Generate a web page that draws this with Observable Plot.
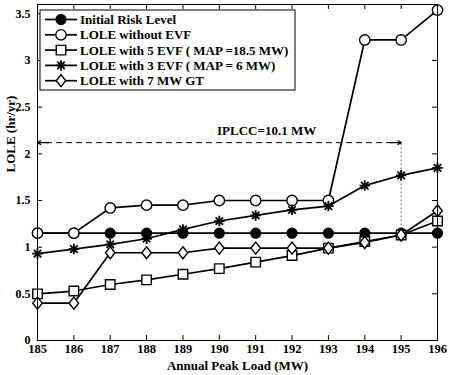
<!DOCTYPE html>
<html>
<head>
<meta charset="utf-8">
<script src="https://cdn.jsdelivr.net/npm/d3@7"></script>
<script src="https://cdn.jsdelivr.net/npm/@observablehq/plot@0.6"></script>
<style>
  html, body { margin: 0; padding: 0; background: #fff; }
  #chart { width: 450px; height: 375px; }
  #chart svg text { font-family: "Liberation Serif", "Times New Roman", serif; font-weight: bold; }
</style>
</head>
<body>
<div id="chart"></div>
<script>
// Annual peak load (MW)
const loads = [185, 186, 187, 188, 189, 190, 191, 192, 193, 194, 195, 196];

// LOLE (hr/yr) per scenario
const initialRisk = [1.15, 1.15, 1.15, 1.15, 1.15, 1.15, 1.15, 1.15, 1.15, 1.15, 1.15, 1.15];
const withoutEVF  = [1.15, 1.15, 1.42, 1.45, 1.45, 1.50, 1.50, 1.50, 1.50, 3.22, 3.22, 3.54];
const with5EVF    = [0.50, 0.53, 0.60, 0.65, 0.71, 0.77, 0.84, 0.91, 0.99, 1.06, 1.13, 1.28];
const with3EVF    = [0.93, 0.98, 1.03, 1.09, 1.19, 1.28, 1.34, 1.40, 1.44, 1.66, 1.77, 1.85];
const with7GT     = [0.40, 0.40, 0.94, 0.94, 0.94, 0.99, 0.99, 0.99, 0.99, 1.05, 1.13, 1.39];

const seriesNames = [
  "Initial Risk Level",
  "LOLE without EVF",
  "LOLE with 5 EVF ( MAP =18.5 MW)",
  "LOLE with 3 EVF ( MAP = 6 MW)",
  "LOLE with 7 MW GT"
];

// Axis ticks
const xTicks = [185, 186, 187, 188, 189, 190, 191, 192, 193, 194, 195, 196];
const yTicks = [0, 0.5, 1, 1.5, 2, 2.5, 3, 3.5];
const xLabel = "Annual Peak Load (MW)";
const yLabel = "LOLE (hr/yr)";

// IPLCC annotation: dashed double arrow from the first load to the crossing load
const iplccFrom = 185;
const iplccTo = 195;
const iplccLevel = 2.12;
const iplccCross = 1.15;
const iplccText = "IPLCC=10.1 MW";
const iplccTextX = 191.3;
const iplccTextY = 2.2;

// Marker shapes (size arrives as pi*r^2 from Plot)
const rOf = size => Math.sqrt(size / Math.PI);
const symSquare = {
  draw(ctx, size) {
    const h = rOf(size) * 0.95;
    ctx.moveTo(-h, -h); ctx.lineTo(h, -h); ctx.lineTo(h, h); ctx.lineTo(-h, h); ctx.closePath();
  }
};
const symDiamond = {
  draw(ctx, size) {
    const r = rOf(size), w = r * 0.95, h = r * 1.2;
    ctx.moveTo(0, -h); ctx.lineTo(w, 0); ctx.lineTo(0, h); ctx.lineTo(-w, 0); ctx.closePath();
  }
};
const symStar = {
  draw(ctx, size) {
    const r = rOf(size) * 1.05, d = r * Math.SQRT1_2;
    ctx.moveTo(-r, 0); ctx.lineTo(r, 0);
    ctx.moveTo(0, -r); ctx.lineTo(0, r);
    ctx.moveTo(-d, -d); ctx.lineTo(d, d);
    ctx.moveTo(-d, d); ctx.lineTo(d, -d);
  }
};

const styles = [
  {symbol: "circle", fill: "black", stroke: "black", r: 5, sw: 1.2},
  {symbol: "circle", fill: "white", stroke: "black", r: 5.2, sw: 1.4},
  {symbol: symSquare, fill: "white", stroke: "black", r: 5, sw: 1.4},
  {symbol: symStar, fill: "none", stroke: "black", r: 5, sw: 1.8},
  {symbol: symDiamond, fill: "white", stroke: "black", r: 5, sw: 1.4}
];

const allSeries = [initialRisk, withoutEVF, with5EVF, with3EVF, with7GT];
const tables = allSeries.map((vals, i) =>
  loads.map((x, j) => ({x, y: vals[j], series: seriesNames[i]}))
);

const W = 450, H = 375, mL = 37, mR = 13, mT = 4, mB = 35;
const plotH = H - mT - mB, plotW = W - mL - mR;
const tickLen = 5;

const seriesMarks = tables.flatMap((data, i) => [
  Plot.line(data, {x: "x", y: "y", stroke: "black", strokeWidth: 1.7}),
  Plot.dot(data, {
    x: "x", y: "y", symbol: () => styles[i].symbol, r: styles[i].r,
    fill: styles[i].fill, stroke: styles[i].stroke, strokeWidth: styles[i].sw
  })
]);

const chart = Plot.plot({
  width: W, height: H,
  marginLeft: mL, marginRight: mR, marginTop: mT, marginBottom: mB,
  style: "font-family: 'Liberation Serif', serif; font-weight: bold; font-size: 12px; background: white; color: black; overflow: visible;",
  x: {domain: [185, 196]},
  y: {domain: [0, 3.6]},
  symbol: {type: "identity"},
  marks: [
    Plot.axisX(xTicks, {tickSize: 0, tickPadding: 4, label: null, fontSize: 12.5}),
    Plot.axisY(yTicks, {tickSize: 0, tickPadding: 7, label: null, fontSize: 12, tickFormat: d => String(d)}),
    // inward tick marks on all four sides
    Plot.tickX(xTicks, {x: d => d, insetTop: plotH - tickLen, stroke: "black", strokeWidth: 1}),
    Plot.tickX(xTicks, {x: d => d, insetBottom: plotH - tickLen, stroke: "black", strokeWidth: 1}),
    Plot.tickY(yTicks, {y: d => d, insetRight: plotW - tickLen, stroke: "black", strokeWidth: 1}),
    Plot.tickY(yTicks, {y: d => d, insetLeft: plotW - tickLen, stroke: "black", strokeWidth: 1}),
    Plot.text([xLabel], {text: d => d, frameAnchor: "bottom", dy: 25, lineAnchor: "middle", fontSize: 13}),
    Plot.text([yLabel], {text: d => d, frameAnchor: "left", dx: -27, rotate: -90, lineAnchor: "middle", fontSize: 13}),
    // IPLCC annotation
    Plot.ruleY([iplccLevel], {x1: iplccFrom + 0.25, x2: iplccTo - 0.25, stroke: "black", strokeWidth: 1, strokeDasharray: "6,4"}),
    Plot.arrow([{x1: iplccFrom + 0.3, x2: iplccFrom}], {x1: "x1", x2: "x2", y1: iplccLevel, y2: iplccLevel, stroke: "black", strokeWidth: 1.2, headLength: 8}),
    Plot.arrow([{x1: iplccTo - 0.3, x2: iplccTo}], {x1: "x1", x2: "x2", y1: iplccLevel, y2: iplccLevel, stroke: "black", strokeWidth: 1.2, headLength: 8}),
    Plot.ruleX([iplccTo], {y1: iplccCross, y2: iplccLevel, stroke: "black", strokeWidth: 1, strokeDasharray: "1,3"}),
    Plot.text([iplccText], {text: d => d, x: iplccTextX, y: iplccTextY, lineAnchor: "bottom", fontSize: 13}),
    ...seriesMarks,
    Plot.frame({stroke: "black", strokeWidth: 1})
  ]
});

// Legend box in the upper-left corner of the plot area
const svg = d3.select(chart);
const lg = svg.append("g").style("font-size", "13px").attr("text-anchor", "start");
const boxX = 40, boxY = 10, boxW = 255, boxH = 80, rowY0 = 19.5, rowDy = 15.3;
lg.append("rect").attr("x", boxX).attr("y", boxY).attr("width", boxW).attr("height", boxH)
  .attr("fill", "white").attr("stroke", "black").attr("stroke-width", 1);
seriesNames.forEach((name, i) => {
  const y = rowY0 + i * rowDy;
  lg.append("line").attr("x1", 45).attr("x2", 77).attr("y1", y).attr("y2", y)
    .attr("stroke", "black").attr("stroke-width", 1.7);
  const s = styles[i];
  const sym = typeof s.symbol === "string" ? d3.symbolCircle : s.symbol;
  lg.append("path").attr("transform", `translate(61,${y})`)
    .attr("d", d3.symbol(sym, Math.PI * s.r * s.r)())
    .attr("fill", s.fill).attr("stroke", s.stroke).attr("stroke-width", s.sw);
  lg.append("text").attr("x", 80).attr("y", y).attr("dy", "0.35em")
    .attr("text-anchor", "start").style("font-size", "13px").text(name);
});

document.getElementById("chart").appendChild(chart);
</script>
</body>
</html>
